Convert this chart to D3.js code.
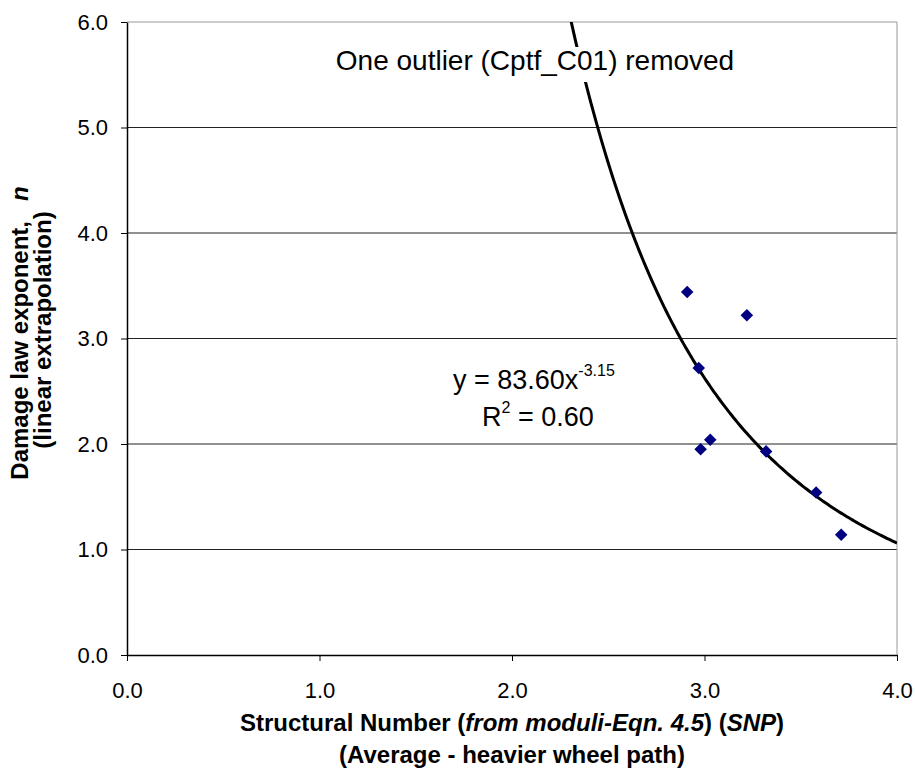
<!DOCTYPE html>
<html>
<head>
<meta charset="utf-8">
<script src="https://cdn.jsdelivr.net/npm/d3@7"></script>
<style>
  body { margin: 0; background: #fff; }
  svg { font-family: Arial, "Liberation Sans", sans-serif; }
</style>
</head>
<body>
<svg id="viz"></svg>
<script>
const width = 915;
const height = 776;

// data
const snp = [2.91, 3.22, 2.97, 2.98, 3.03, 3.32, 3.58, 3.71];
const exponent = [3.44, 3.22, 2.72, 1.95, 2.04, 1.93, 1.54, 1.14];
const xTicks = [0, 1, 2, 3, 4];
const yTicks = [0, 1, 2, 3, 4, 5, 6];
// power trend line y = a * x^b
const fitA = 83.60;
const fitB = -3.15;

const margin = { top: 22, right: 18, bottom: 121, left: 127 };

const svg = d3.select("#viz").attr("width", width).attr("height", height);

const x = d3.scaleLinear().domain([0, 4]).range([margin.left, width - margin.right]);
const y = d3.scaleLinear().domain([0, 6]).range([height - margin.bottom, margin.top]);

const plot = svg.append("g");

// horizontal grid
plot.append("g")
    .selectAll("line")
    .data(yTicks.slice(1))
    .enter()
    .append("line")
    .attr("x1", x(0)).attr("x2", x(4))
    .attr("y1", d => y(d)).attr("y2", d => y(d))
    .attr("stroke", d => d == 6 ? "#999" : "#222")
    .attr("stroke-width", 1);

// right border
plot.append("line")
    .attr("x1", x(4)).attr("x2", x(4))
    .attr("y1", y(6)).attr("y2", y(0))
    .attr("stroke", "#999");

// trend line
const curvePts = d3.range(2.25, 4.0001, 0.01)
    .map(v => [v, fitA * Math.pow(v, fitB)])
    .filter(p => p[1] <= 6.2);

svg.append("clipPath").attr("id", "clip")
    .append("rect")
    .attr("x", x(0)).attr("y", y(6))
    .attr("width", x(4) - x(0)).attr("height", y(0) - y(6));

plot.append("path")
    .datum(curvePts)
    .attr("clip-path", "url(#clip)")
    .attr("fill", "none")
    .attr("stroke", "#000")
    .attr("stroke-width", 3)
    .attr("d", d3.line().x(d => x(d[0])).y(d => y(d[1])));

// points
plot.append("g")
    .selectAll("path")
    .data(snp)
    .enter()
    .append("path")
    .attr("d", d3.symbol().type(d3.symbolDiamond2).size(100))
    .attr("transform", (d, i) => "translate(" + x(d) + "," + y(exponent[i]) + ")")
    .attr("fill", "#000080");

// axes
const xAxis = d3.axisBottom(x).tickValues(xTicks).tickFormat(d3.format(".1f")).tickSize(6).tickSizeOuter(0);
const gx = svg.append("g").attr("transform", "translate(0," + y(0) + ")").call(xAxis);
gx.select(".domain").attr("stroke", "#000").attr("stroke-width", 1.5);
gx.selectAll(".tick line").attr("stroke", "#000");
gx.selectAll("text").style("font-size", "22px").attr("fill", "#000").attr("y", 27)
    .style("font-family", "Arial, 'Liberation Sans', sans-serif");

const yAxis = d3.axisLeft(y).tickValues(yTicks).tickFormat(d3.format(".1f")).tickSize(6).tickSizeOuter(0);
const gy = svg.append("g").attr("transform", "translate(" + x(0) + ",0)").call(yAxis);
gy.select(".domain").attr("stroke", "#000").attr("stroke-width", 1.5);
gy.selectAll(".tick line").attr("stroke", "#000");
gy.selectAll("text").style("font-size", "22px").attr("fill", "#000").attr("x", -19)
    .style("font-family", "Arial, 'Liberation Sans', sans-serif");

// annotation with white backing over the trend line
const note = svg.append("g");
const noteText = note.append("text")
    .attr("x", 535).attr("y", 70)
    .attr("text-anchor", "middle")
    .attr("font-size", 28)
    .text("One outlier (Cptf_C01) removed");
const bb = noteText.node().getBBox();
note.insert("rect", "text")
    .attr("x", bb.x - 4).attr("y", bb.y + 2)
    .attr("width", bb.width + 8).attr("height", bb.height + 4)
    .attr("fill", "#fff");

// equation
const eq = svg.append("text")
    .attr("x", 453).attr("y", 389)
    .attr("font-size", 27);
eq.append("tspan").text("y = " + fitA.toFixed(2) + "x");
eq.append("tspan").attr("font-size", 16).attr("dy", -13).text(fitB.toFixed(2));

const r2 = svg.append("text")
    .attr("x", 482).attr("y", 426)
    .attr("font-size", 27);
r2.append("tspan").text("R");
r2.append("tspan").attr("font-size", 16).attr("dy", -13).text("2");
r2.append("tspan").attr("dy", 13).text(" = 0.60");

// x title
const xt1 = svg.append("text")
    .attr("x", 512).attr("y", 731)
    .attr("text-anchor", "middle")
    .attr("font-size", 24)
    .attr("font-weight", "bold");
xt1.append("tspan").text("Structural Number (");
xt1.append("tspan").attr("font-style", "italic").text("from moduli-Eqn. 4.5");
xt1.append("tspan").text(") (");
xt1.append("tspan").attr("font-style", "italic").text("SNP");
xt1.append("tspan").text(")");

svg.append("text")
    .attr("x", 512).attr("y", 763)
    .attr("text-anchor", "middle")
    .attr("font-size", 24)
    .attr("font-weight", "bold")
    .text("(Average - heavier wheel path)");

// y title
const yt = svg.append("g").attr("transform", "translate(28,333) rotate(-90)");
const yt1 = yt.append("text")
    .attr("x", 0).attr("y", 0)
    .attr("text-anchor", "middle")
    .attr("font-size", 24)
    .attr("font-weight", "bold");
yt1.append("tspan").text("Damage law exponent,\u00a0\u00a0\u00a0");
yt1.append("tspan").attr("font-style", "italic").text("n");
yt.append("text")
    .attr("x", 3).attr("y", 23)
    .attr("text-anchor", "middle")
    .attr("font-size", 24)
    .attr("font-weight", "bold")
    .text("(linear extrapolation)");
</script>
</body>
</html>
